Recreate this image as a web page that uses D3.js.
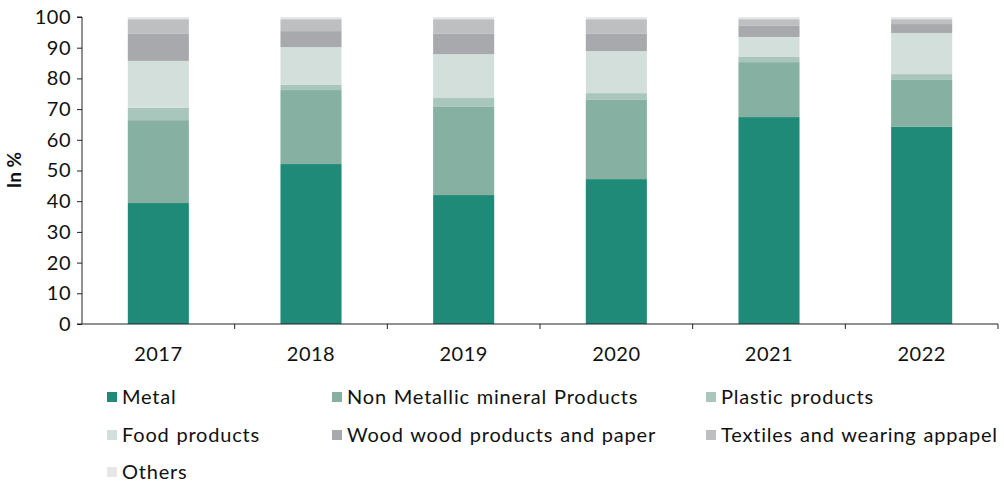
<!DOCTYPE html>
<html>
<head>
<meta charset="utf-8">
<script src="https://cdn.jsdelivr.net/npm/d3@7"></script>
<style>
  html, body { margin: 0; padding: 0; background: #fff; }
  svg { display: block; font-family: "Lato", "Open Sans", sans-serif; }
</style>
</head>
<body>
<svg id="chart" width="1004" height="483"></svg>
<script>
const years = ["2017", "2018", "2019", "2020", "2021", "2022"];
const seriesNames = ["Metal", "Non Metallic mineral Products", "Plastic products", "Food products", "Wood wood products and paper", "Textiles and wearing appapel", "Others"];
const metal     = [39.4, 52.1, 42.0, 47.2, 67.4, 64.2];
const nonMetal  = [27.0, 24.1, 28.7, 25.8, 17.9, 15.3];
const plastic   = [4.0, 1.7, 2.9, 2.2, 1.7, 1.9];
const food      = [15.3, 12.3, 14.3, 13.7, 6.5, 13.4];
const wood      = [8.8, 5.2, 6.6, 5.6, 3.6, 2.9];
const textiles  = [4.8, 3.9, 4.8, 4.8, 2.2, 1.6];
const others    = [0.7, 0.7, 0.7, 0.7, 0.7, 0.7];
const yTicks = [0, 10, 20, 30, 40, 50, 60, 70, 80, 90, 100];
const colors = ["#1f8a78", "#85b0a2", "#a8c6bc", "#d2dfdb", "#a8a9ad", "#bebfc1", "#e6e7e9"];

(function () {
const seriesValues = [metal, nonMetal, plastic, food, wood, textiles, others];
const keys = seriesNames.map((d, i) => "s" + i);
const table = years.map((yr, j) => {
  const row = { year: yr };
  keys.forEach((k, i) => row[k] = seriesValues[i][j]);
  return row;
});

const svg = d3.select("#chart");
const mLeft = 82, mRight = 998, mTop = 17, mBottom = 324;

const x = d3.scaleBand().domain(years).range([mLeft, mRight]).paddingInner(0.6).paddingOuter(0.3);
const y = d3.scaleLinear().domain([0, 100]).range([mBottom, mTop]);

const stacked = d3.stack().keys(keys)(table);

svg.append("g").selectAll("g").data(stacked).join("g")
  .attr("fill", (d, i) => colors[i])
  .selectAll("rect").data(d => d).join("rect")
  .attr("x", d => x(d.data.year))
  .attr("width", x.bandwidth())
  .attr("y", d => y(d[1]))
  .attr("height", d => y(d[0]) - y(d[1]));

// Y axis
const yAxis = svg.append("g").attr("transform", `translate(${mLeft},0)`)
  .call(d3.axisLeft(y).tickValues(yTicks).tickSize(5).tickPadding(6));
yAxis.select(".domain").attr("stroke", "#222").attr("d", `M-5,${mBottom}H0V${mTop}H-5`);
yAxis.selectAll(".tick line").attr("stroke", "#222");
yAxis.selectAll("text").attr("font-size", 20).attr("fill", "#111")
  .attr("font-family", "Lato, sans-serif").style("letter-spacing", "0.5px");

// X axis
const xAxisG = svg.append("g").attr("transform", `translate(0,${mBottom})`);
xAxisG.append("line").attr("x1", mLeft).attr("x2", mRight).attr("stroke", "#222");
const boundaries = years.map((d, i) => mLeft + (i + 1) * x.step());
xAxisG.selectAll("line.tk").data(boundaries).join("line").attr("class", "tk")
  .attr("x1", d => d).attr("x2", d => d).attr("y1", 0).attr("y2", 5).attr("stroke", "#222");
xAxisG.selectAll("text").data(years).join("text")
  .attr("x", d => x(d) + x.bandwidth() / 2)
  .attr("y", 37)
  .attr("text-anchor", "middle")
  .attr("font-size", 20).attr("fill", "#111").style("letter-spacing", "0.5px")
  .text(d => d);

// Y label
svg.append("text")
  .attr("transform", `translate(21,170) rotate(-90)`)
  .attr("text-anchor", "middle")
  .attr("font-size", 19).attr("font-weight", "bold").attr("fill", "#111")
  .text("In %");

// Legend
const colX = [107, 332, 706];
const rowY = [397, 435, 472];
const leg = svg.append("g");
seriesNames.forEach((name, i) => {
  const cx = colX[i % 3], cy = rowY[Math.floor(i / 3)];
  leg.append("rect").attr("x", cx).attr("y", cy - 5).attr("width", 10).attr("height", 10).attr("fill", colors[i]);
  leg.append("text").attr("x", cx + 15).attr("y", cy).attr("dy", "0.35em")
    .attr("font-size", 20).attr("fill", "#111").style("letter-spacing", "0.8px")
    .style("word-spacing", "1px").text(name);
});
})();
</script>
</body>
</html>
